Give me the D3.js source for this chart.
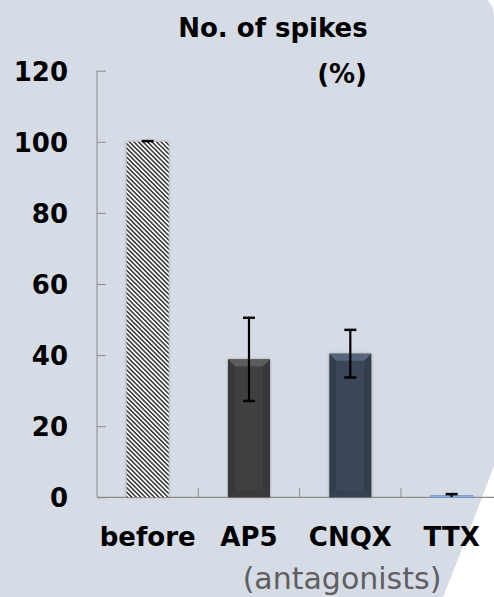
<!DOCTYPE html>
<html>
<head>
<meta charset="utf-8">
<script src="https://cdn.jsdelivr.net/npm/d3@7"></script>
<style>
  html, body { margin: 0; padding: 0; background: #fff; }
  svg { display: block; font-family: "DejaVu Sans", Verdana, sans-serif; }
</style>
</head>
<body>
<svg id="chart" width="494" height="597"></svg>
<script>
// chart values
const categories = ["before", "AP5", "CNQX", "TTX"];
const means = [100, 38.8, 40.4, 0.5];
const errors = [0.2, 11.7, 6.7, 0.4];
const yTicks = [0, 20, 40, 60, 80, 100, 120];

let W = 494, H = 597;
let svg = d3.select("#chart");

// background panel with the white cut on the right
svg.append("path")
  .attr("d", "M0,0 L487,0 Q494,6 494,16 L494,466 Q470,530 443,597 L0,597 Z")
  .attr("fill", "#d6dce5");

let defs = svg.append("defs");
defs.append("pattern")
  .attr("id", "stripes")
  .attr("patternUnits", "userSpaceOnUse")
  .attr("width", 3.2)
  .attr("height", 3.2)
  .attr("patternTransform", "rotate(-45)")
  .call((p) => {
    p.append("rect").attr("width", 3.2).attr("height", 3.2).attr("fill", "#ffffff");
    p.append("rect").attr("width", 1.5).attr("height", 3.2).attr("fill", "#333333");
  });

let shadow = defs.append("filter").attr("id", "soft")
  .attr("x", "-20%").attr("y", "-5%").attr("width", "140%").attr("height", "110%");
shadow.append("feGaussianBlur").attr("in", "SourceAlpha").attr("stdDeviation", 1.5).attr("result", "b");
shadow.append("feFlood").attr("flood-color", "#6b6b6b").attr("flood-opacity", 0.6);
shadow.append("feComposite").attr("in2", "b").attr("operator", "in").attr("result", "s");
shadow.append("feMerge").call((m) => {
  m.append("feMergeNode").attr("in", "s");
  m.append("feMergeNode").attr("in", "SourceGraphic");
});

let x = d3.scaleBand().domain(categories).range([97, 502.3]).padding(0);
let y = d3.scaleLinear().domain([0, 120]).range([497.3, 70.7]);
let barW = 42;
let cx = (d) => x(d) + x.bandwidth() / 2;

// axes
let yAxis = svg.append("g").attr("transform", "translate(97,0)")
  .call(d3.axisRight(y).tickValues(yTicks).tickSize(9).tickFormat(""));
yAxis.select(".domain").attr("d", `M0,${y(120)}V${y(0)}`);
yAxis.selectAll("line").attr("stroke", "#8c8c8c");
yAxis.select(".domain").attr("stroke", "#8c8c8c");

let xAxis = svg.append("g").attr("transform", `translate(0,${y(0)})`);
xAxis.append("line").attr("x1", 97).attr("x2", W).attr("stroke", "#8c8c8c").attr("stroke-width", 1.2);
xAxis.selectAll(".sep")
  .data(categories.slice(1))
  .join("line")
  .attr("x1", (d) => x(d)).attr("x2", (d) => x(d))
  .attr("y1", 0).attr("y2", -9)
  .attr("stroke", "#8c8c8c");

// y labels
svg.append("g").selectAll("text")
  .data(yTicks)
  .join("text")
  .attr("x", 68)
  .attr("y", (d) => y(d) + 10)
  .attr("text-anchor", "end")
  .attr("font-size", 26)
  .attr("font-weight", "bold")
  .text((d) => d);

// bars
let fills = ["url(#stripes)", "#404040", "#3b4759", "#8eb4e3"];
let bevel = [null, "#5c5c5c", "#56657b", null];
let bars = svg.append("g");
categories.forEach((c, i) => {
  let x0 = cx(c) - barW / 2;
  let top = y(means[i]);
  let h = y(0) - top;
  let g = bars.append("g");
  if (i === 3) {
    g.append("rect").attr("x", x0).attr("y", top).attr("width", barW).attr("height", h)
      .attr("fill", fills[i]).attr("stroke", "#6f94c4").attr("stroke-width", 0.8);
    return;
  }
  g.append("rect").attr("x", x0).attr("y", top).attr("width", barW).attr("height", h)
    .attr("fill", fills[i]).attr("filter", "url(#soft)");
  if (bevel[i]) {
    let b = 7;
    g.append("path")
      .attr("d", `M${x0},${top} L${x0 + barW},${top} L${x0 + barW - b},${top + b} L${x0 + b},${top + b} Z`)
      .attr("fill", bevel[i]);
    g.append("path")
      .attr("d", `M${x0},${top} L${x0 + b},${top + b} L${x0 + b},${top + h - b} L${x0},${top + h} Z`)
      .attr("fill", "#000").attr("opacity", 0.12);
    g.append("path")
      .attr("d", `M${x0 + barW},${top} L${x0 + barW - b},${top + b} L${x0 + barW - b},${top + h - b} L${x0 + barW},${top + h} Z`)
      .attr("fill", "#000").attr("opacity", 0.12);
    g.append("path")
      .attr("d", `M${x0},${top + h} L${x0 + b},${top + h - b} L${x0 + barW - b},${top + h - b} L${x0 + barW},${top + h} Z`)
      .attr("fill", "#000").attr("opacity", 0.08);
  }
});

// error bars
let err = svg.append("g").attr("stroke", "#000");
categories.forEach((c, i) => {
  let xc = cx(c);
  let hi = y(means[i] + errors[i]);
  let lo = y(Math.max(0, means[i] - errors[i]));
  err.append("line").attr("x1", xc).attr("x2", xc).attr("y1", hi).attr("y2", lo).attr("stroke-width", 2.2);
  err.append("line").attr("x1", xc - 6).attr("x2", xc + 6).attr("y1", hi).attr("y2", hi).attr("stroke-width", 2.5);
  if (i !== 0 && i !== 3)
    err.append("line").attr("x1", xc - 6).attr("x2", xc + 6).attr("y1", lo).attr("y2", lo).attr("stroke-width", 2.5);
});

// category labels
svg.append("g").selectAll("text")
  .data(categories)
  .join("text")
  .attr("x", (d) => cx(d))
  .attr("y", 546)
  .attr("text-anchor", "middle")
  .attr("font-size", 26)
  .attr("font-weight", "bold")
  .text((d) => d);

svg.append("text")
  .attr("x", 342).attr("y", 589)
  .attr("text-anchor", "middle")
  .attr("font-size", 30)
  .attr("fill", "#5f5f5f")
  .text("(antagonists)");

// titles
svg.append("text")
  .attr("x", 273).attr("y", 37)
  .attr("text-anchor", "middle")
  .attr("font-size", 26)
  .attr("font-weight", "bold")
  .text("No. of spikes");
svg.append("text")
  .attr("x", 367).attr("y", 83)
  .attr("text-anchor", "end")
  .attr("font-size", 26)
  .attr("font-weight", "bold")
  .text("(%)");
</script>
</body>
</html>
